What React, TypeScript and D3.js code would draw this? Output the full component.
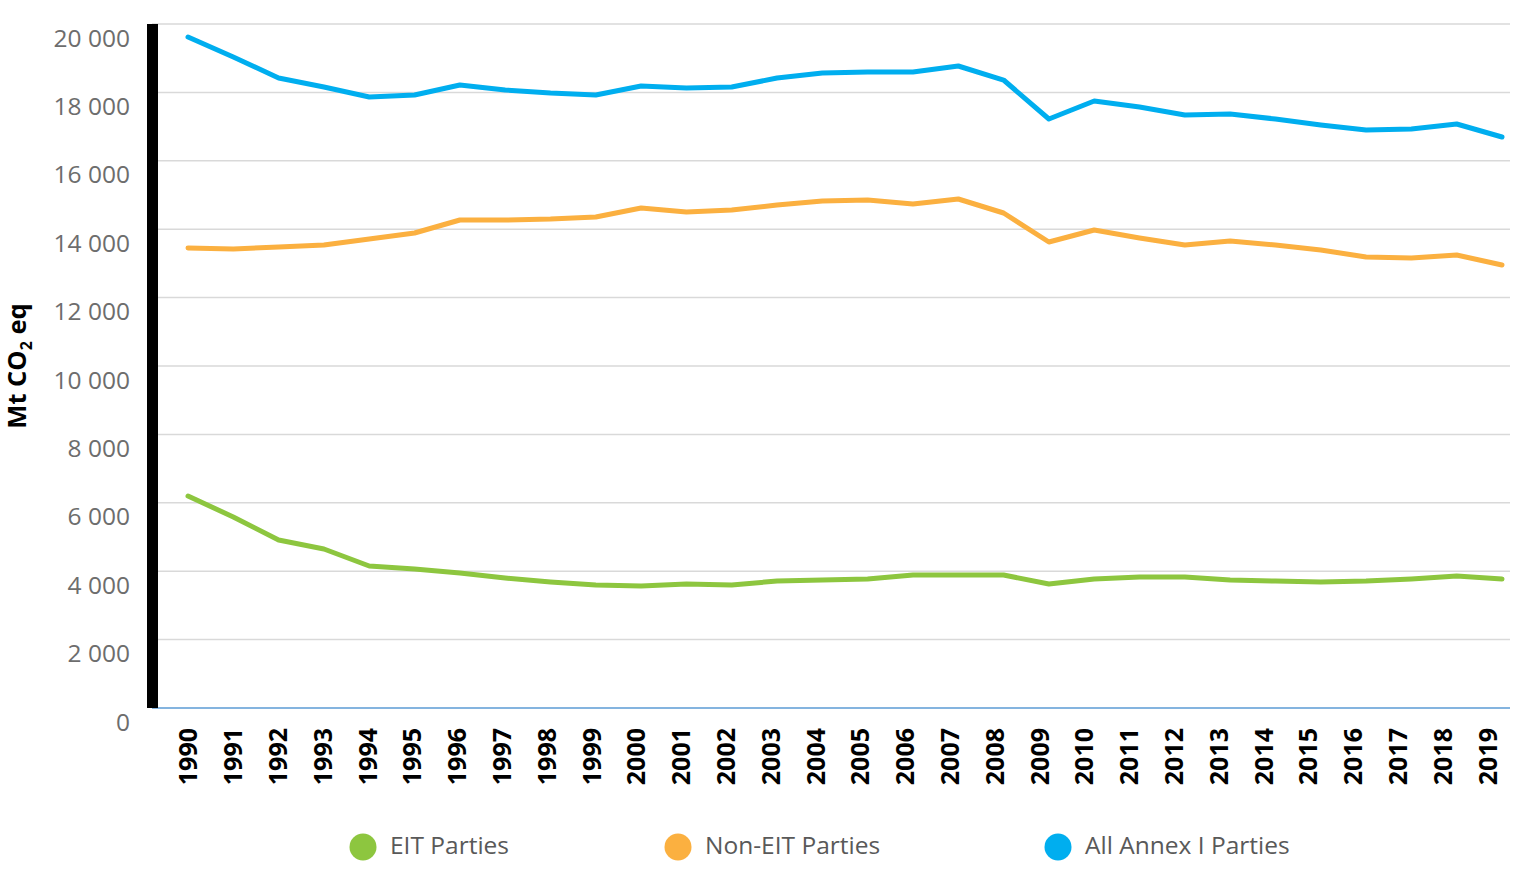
import * as d3 from "d3"

const years = d3.range(1990, 2020).map(String)

const eit = [
  6199, 5585, 4912, 4649, 4152, 4064, 3947, 3801, 3684, 3596, 3567, 3626, 3596, 3713, 3743,
  3772, 3889, 3889, 3889, 3626, 3772, 3830, 3830, 3743, 3713, 3684, 3713, 3772, 3860, 3772,
]

const nonEit = [
  13450, 13421, 13480, 13538, 13713, 13889, 14269, 14269, 14298, 14357, 14620, 14503, 14561,
  14708, 14825, 14854, 14737, 14883, 14474, 13626, 13977, 13743, 13538, 13655, 13538, 13392,
  13187, 13158, 13246, 12953,
]

const annexI = [
  19620, 19035, 18420, 18158, 17865, 17924, 18216, 18070, 17982, 17924, 18187, 18128, 18158,
  18420, 18567, 18596, 18596, 18772, 18362, 17222, 17749, 17573, 17339, 17368, 17222, 17047,
  16900, 16930, 17076, 16696,
]

const yTicks = [0, 2000, 4000, 6000, 8000, 10000, 12000, 14000, 16000, 18000, 20000]

const series = [
  { name: "EIT Parties", values: eit, color: "#8dc63f" },
  { name: "Non-EIT Parties", values: nonEit, color: "#fbb040" },
  { name: "All Annex I Parties", values: annexI, color: "#00aeef" },
]

const width = 1536
const height = 887
const margin = { top: 24, right: 26, bottom: 179, left: 158 }
const font = "'Open Sans', sans-serif"

export default function App() {
  // category labels sit on a band scale, the lines on a slightly wider point scale
  const xLabel = d3
    .scaleBand<string>()
    .domain(years)
    .range([margin.left + 8, width - margin.right])
  const xLine = d3
    .scalePoint<string>()
    .domain(years)
    .range([margin.left + 30, width - margin.right - 8])
  const y = d3
    .scaleLinear()
    .domain([0, 20000])
    .range([height - margin.bottom, margin.top])

  const fmt = (v: number) => d3.format(",")(v).replace(/,/g, " ")

  const line = d3
    .line<number>()
    .x((_, i) => xLine(years[i]) as number)
    .y((d) => y(d))

  const legendX = [363, 678, 1058]

  return (
    <svg
      width={width}
      height={height}
      style={{ position: "absolute", left: 0, top: 0, background: "#fff" }}
    >
      {/* gridlines */}
      {yTicks.slice(1).map((t) => (
        <line
          key={t}
          x1={margin.left - 6}
          x2={width - margin.right}
          y1={y(t)}
          y2={y(t)}
          stroke="#d9d9d9"
          strokeWidth={1.5}
        />
      ))}
      {/* x axis line */}
      <line
        x1={margin.left - 6}
        x2={width - margin.right}
        y1={y(0)}
        y2={y(0)}
        stroke="#5b9bd5"
        strokeWidth={1.5}
      />
      {/* thick y axis bar */}
      <rect
        x={margin.left - 11}
        y={y(20000)}
        width={11}
        height={y(0) - y(20000)}
        fill="#000"
      />
      {/* y tick labels */}
      {yTicks.map((t) => (
        <text
          key={t}
          x={margin.left - 28}
          y={y(t) + 16}
          textAnchor="end"
          dominantBaseline="middle"
          fontFamily={font}
          fontSize={24.5}
          fill="#6d6d6d"
        >
          {fmt(t)}
        </text>
      ))}
      {/* y title */}
      <text
        transform={`translate(26,${(y(0) + y(20000)) / 2}) rotate(-90)`}
        textAnchor="middle"
        fontFamily={font}
        fontWeight={700}
        fontSize={25.5}
        fill="#000"
      >
        Mt CO<tspan fontSize={16} dy={6}>2</tspan>
        <tspan dy={-6}> eq</tspan>
      </text>
      {/* x tick labels */}
      {years.map((yr) => (
        <text
          key={yr}
          transform={`translate(${(xLabel(yr) as number) + xLabel.bandwidth() / 2 + 9},${y(0) + 20}) rotate(-90)`}
          textAnchor="end"
          fontFamily={font}
          fontWeight={700}
          fontSize={25}
          fill="#000"
        >
          {yr}
        </text>
      ))}
      {/* lines */}
      {series.map((s) => (
        <path
          key={s.name}
          d={line(s.values) ?? ""}
          fill="none"
          stroke={s.color}
          strokeWidth={5}
          strokeLinejoin="round"
          strokeLinecap="round"
        />
      ))}
      {/* legend */}
      {series.map((s, i) => (
        <g key={s.name} transform={`translate(${legendX[i]},847)`}>
          <circle r={13.5} fill={s.color} />
          <text
            x={27}
            dominantBaseline="middle"
            fontFamily={font}
            fontSize={24.5}
            fill="#595959"
          >
            {s.name}
          </text>
        </g>
      ))}
    </svg>
  )
}
